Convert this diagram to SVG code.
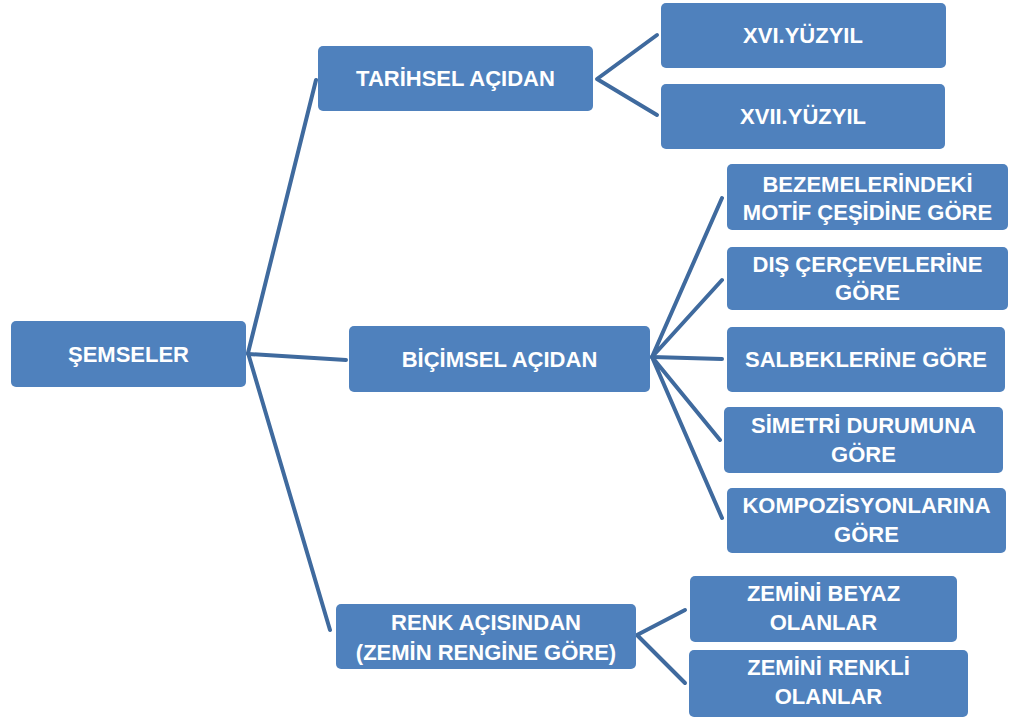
<svg xmlns="http://www.w3.org/2000/svg" width="1009" height="720" viewBox="0 0 1009 720">
<style>
.box{fill:#4F81BD;}
.t{font-family:"Liberation Sans",Arial,sans-serif;font-weight:bold;font-size:22px;fill:#FFFFFF;text-anchor:middle;}
.c{stroke:#3F6A9E;stroke-width:4;fill:none;stroke-linecap:round;stroke-linejoin:round;}
</style>
<rect width="1009" height="720" fill="#FFFFFF"/>
<g id="connectors">
<path class="c" d="M316 80 L248 353 L330 630"/>
<path class="c" d="M248 354 L346 360"/>
<path class="c" d="M657 35 L597 79 L657 115"/>
<path class="c" d="M722 198 L652 357 L722 280"/>
<path class="c" d="M652 357 L722 359"/>
<path class="c" d="M720 440 L652 357 L722 518"/>
<path class="c" d="M685 610 L637 635 L685 683"/>
</g>
<g id="node-semseler"><rect class="box" x="11" y="321" width="235" height="66" rx="5"/><text class="t" x="128.5" y="362">ŞEMSELER</text></g>
<g id="node-tarihsel"><rect class="box" x="318" y="46" width="275" height="65" rx="5"/><text class="t" x="455.5" y="86">TARİHSEL AÇIDAN</text></g>
<g id="node-xvi"><rect class="box" x="661" y="3" width="285" height="65" rx="5"/><text class="t" x="803" y="43">XVI.YÜZYIL</text></g>
<g id="node-xvii"><rect class="box" x="661" y="84" width="284" height="65" rx="5"/><text class="t" x="803" y="124">XVII.YÜZYIL</text></g>
<g id="node-bicimsel"><rect class="box" x="349" y="326" width="301" height="66" rx="5"/><text class="t" x="499.5" y="367">BİÇİMSEL AÇIDAN</text></g>
<g id="node-bezeme"><rect class="box" x="727" y="164" width="281" height="66" rx="5"/><text class="t" x="867.5" y="192">BEZEMELERİNDEKİ</text><text class="t" x="867.5" y="220">MOTİF ÇEŞİDİNE GÖRE</text></g>
<g id="node-dis"><rect class="box" x="727" y="247" width="281" height="63" rx="5"/><text class="t" x="867.5" y="272">DIŞ ÇERÇEVELERİNE</text><text class="t" x="867.5" y="300">GÖRE</text></g>
<g id="node-salbek"><rect class="box" x="727" y="327" width="278" height="65" rx="5"/><text class="t" x="866" y="367">SALBEKLERİNE GÖRE</text></g>
<g id="node-simetri"><rect class="box" x="724" y="407" width="279" height="66" rx="5"/><text class="t" x="863.5" y="433">SİMETRİ DURUMUNA</text><text class="t" x="863.5" y="462">GÖRE</text></g>
<g id="node-kompozisyon"><rect class="box" x="727" y="488" width="279" height="65" rx="5"/><text class="t" x="866.5" y="513">KOMPOZİSYONLARINA</text><text class="t" x="866.5" y="542">GÖRE</text></g>
<g id="node-renk"><rect class="box" x="336" y="604" width="300" height="65" rx="5"/><text class="t" x="486" y="630">RENK AÇISINDAN</text><text class="t" x="486" y="660">(ZEMİN RENGİNE GÖRE)</text></g>
<g id="node-beyaz"><rect class="box" x="690" y="576" width="267" height="66" rx="5"/><text class="t" x="823.5" y="601">ZEMİNİ BEYAZ</text><text class="t" x="823.5" y="630">OLANLAR</text></g>
<g id="node-renkli"><rect class="box" x="689" y="650" width="279" height="67" rx="5"/><text class="t" x="828.5" y="675">ZEMİNİ RENKLİ</text><text class="t" x="828.5" y="704">OLANLAR</text></g>
</svg>
